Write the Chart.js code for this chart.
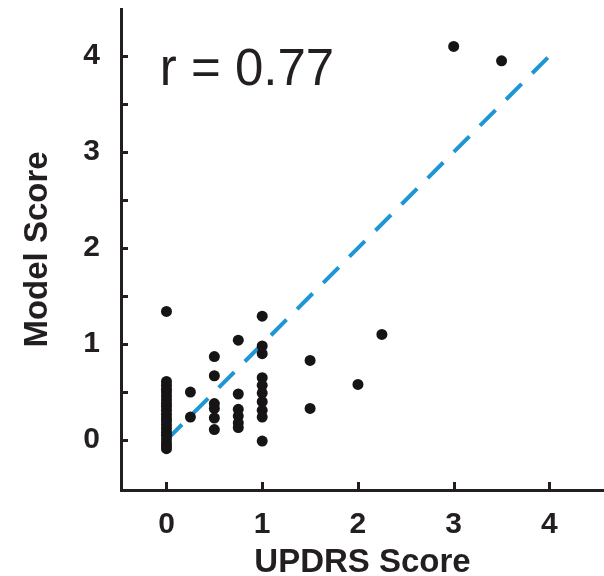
<!DOCTYPE html>
<html>
<head>
<meta charset="utf-8">
<script src="https://cdn.jsdelivr.net/npm/chart.js@4.4.0/dist/chart.umd.min.js"></script>
<style>
  body { margin: 0; background: #fff; }
</style>
</head>
<body>
<canvas id="chart" width="604" height="576"></canvas>
<script>
// UPDRS levels (x) and the model scores seen at each level (y)
const updrsLevels = [0, 0.25, 0.5, 0.75, 1, 1.5, 2, 2.25, 3, 3.5]
const modelScoresByLevel = [
  [1.34, 0.61, 0.57, 0.53, 0.5, 0.46, 0.42, 0.38, 0.35, 0.31, 0.27, 0.23, 0.2, 0.16, 0.12, 0.08, 0.05, 0.01, -0.03, -0.06, -0.09],
  [0.5, 0.24],
  [0.87, 0.67, 0.38, 0.33, 0.23, 0.11],
  [1.04, 0.48, 0.32, 0.25, 0.18, 0.13],
  [1.29, 0.98, 0.9, 0.65, 0.57, 0.49, 0.4, 0.31, 0.24, -0.01],
  [0.83, 0.33],
  [0.58],
  [1.1],
  [4.1],
  [3.95],
]

// identity line
const fitX = [0, 4]
const fitY = [0, 4]

const xTickLabels = [0, 1, 2, 3, 4]
const yTickLabels = [0, 1, 2, 3, 4]
const rText = 'r = 0.77'

const ink = '#231f20'
const fontFamily = '"Liberation Sans", Arial, sans-serif'

const points = updrsLevels.flatMap((x, i) =>
  modelScoresByLevel[i].map((y) => ({ x, y }))
)
const fitPoints = fitX.map((x, i) => ({ x, y: fitY[i] }))

// ticks in this figure point into the plot, so draw them by hand
const inwardTicks = {
  id: 'inwardTicks',
  afterDraw(chart) {
    const { ctx, chartArea, scales } = chart
    ctx.save()
    ctx.strokeStyle = ink
    ctx.lineWidth = 3
    ctx.beginPath()
    scales.y.ticks.forEach((t) => {
      if (t.value < 0) return
      const py = Math.round(scales.y.getPixelForValue(t.value)) + 0.5
      ctx.moveTo(chartArea.left, py)
      ctx.lineTo(chartArea.left + 7, py)
    })
    scales.x.ticks.forEach((t) => {
      if (t.value < 0 || !xTickLabels.includes(t.value)) return
      const px = Math.round(scales.x.getPixelForValue(t.value)) + 0.5
      ctx.moveTo(px, chartArea.bottom)
      ctx.lineTo(px, chartArea.bottom - 8)
    })
    ctx.stroke()
    ctx.restore()
  },
}

const rLabel = {
  id: 'rLabel',
  afterDraw(chart) {
    const { ctx, scales } = chart
    ctx.save()
    ctx.fillStyle = ink
    ctx.font = '51px ' + fontFamily
    ctx.textAlign = 'left'
    ctx.textBaseline = 'alphabetic'
    ctx.fillText(rText, scales.x.getPixelForValue(-0.07), scales.y.getPixelForValue(3.7))
    ctx.restore()
  },
}

// keep the plot box fixed: no extra room for the end labels
const noEdgePadding = (scale) => {
  scale.paddingTop = 0
  scale.paddingBottom = 0
  scale.paddingLeft = 0
  scale.paddingRight = 0
}

new Chart(document.getElementById('chart'), {
  type: 'scatter',
  data: {
    datasets: [
      {
        type: 'line',
        label: 'identity',
        data: fitPoints,
        borderColor: '#1d96d3',
        borderWidth: 4,
        borderDash: [22, 15],
        pointRadius: 0,
        fill: false,
        order: 2,
      },
      {
        label: 'subjects',
        data: points,
        backgroundColor: '#161414',
        borderWidth: 0,
        pointRadius: 5.5,
        order: 1,
      },
    ],
  },
  options: {
    responsive: false,
    animation: false,
    devicePixelRatio: 1,
    layout: { autoPadding: false, padding: { top: 9, right: 0, left: 0, bottom: 0 } },
    plugins: {
      legend: { display: false },
      tooltip: { enabled: false },
    },
    scales: {
      x: {
        type: 'linear',
        min: -0.475,
        max: 4.57,
        afterFit(scale) {
          scale.height = 86
          noEdgePadding(scale)
        },
        border: { display: true, width: 3, color: ink },
        grid: { drawOnChartArea: false, drawTicks: false },
        ticks: {
          stepSize: 1,
          includeBounds: false,
          padding: 17,
          color: ink,
          font: { family: fontFamily, size: 30, weight: 'bold' },
          callback: (v) => (xTickLabels.includes(v) ? String(v) : ''),
        },
        title: {
          display: true,
          text: 'UPDRS Score',
          color: ink,
          font: { family: fontFamily, size: 33, weight: 'bold', lineHeight: 0.8 },
          padding: { top: 0, bottom: 0 },
        },
      },
      y: {
        type: 'linear',
        min: -0.52,
        max: 4.49,
        afterFit(scale) {
          scale.width = 121
          noEdgePadding(scale)
        },
        border: { display: true, width: 3, color: ink },
        grid: { drawOnChartArea: false, drawTicks: false },
        ticks: {
          stepSize: 0.5,
          includeBounds: false,
          padding: 21,
          color: ink,
          font: { family: fontFamily, size: 30, weight: 'bold' },
          callback: (v) => (yTickLabels.includes(v) ? String(v) : ''),
        },
        title: {
          display: true,
          text: 'Model Score',
          color: ink,
          font: { family: fontFamily, size: 33, weight: 'bold', lineHeight: 1 },
          padding: { top: 21, bottom: 0 },
        },
      },
    },
  },
  plugins: [inwardTicks, rLabel],
})
</script>
</body>
</html>
